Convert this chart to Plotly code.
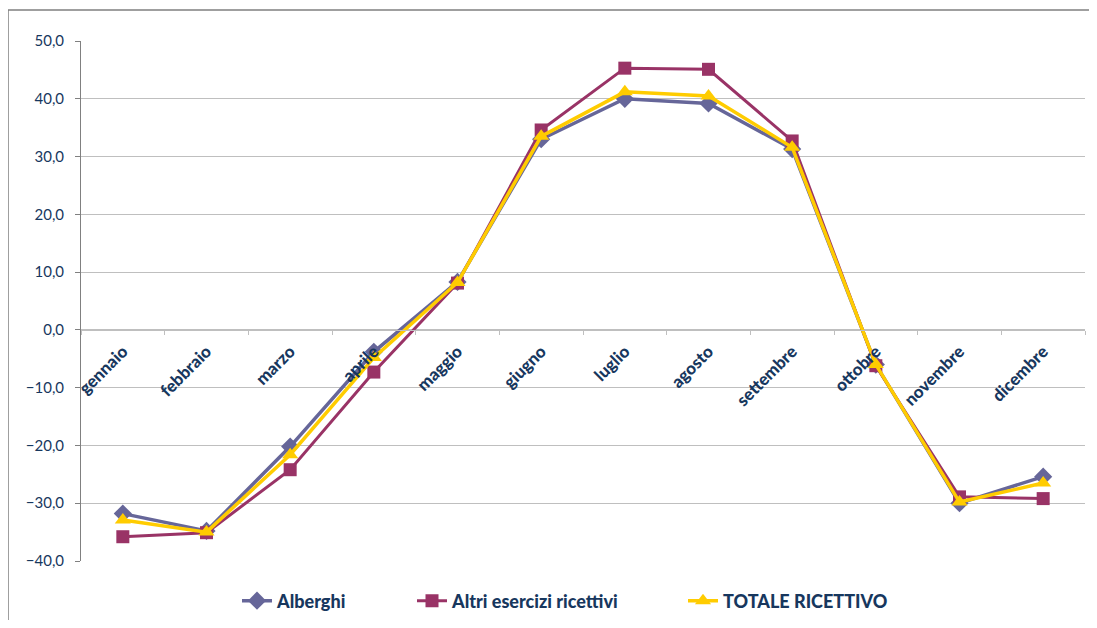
import plotly.graph_objects as go

months = ["gennaio", "febbraio", "marzo", "aprile", "maggio", "giugno",
          "luglio", "agosto", "settembre", "ottobre", "novembre", "dicembre"]
alberghi = [-31.8, -34.8, -20.2, -3.8, 8.3, 33.0, 40.0, 39.2, 31.3, -6.0, -30.0, -25.4]
altri = [-35.8, -35.1, -24.2, -7.3, 8.1, 34.6, 45.3, 45.1, 32.7, -6.2, -28.9, -29.2]
totale = [-32.9, -35.0, -21.6, -4.8, 8.2, 33.5, 41.2, 40.5, 31.6, -6.0, -29.8, -26.5]
y_ticks = [-40, -30, -20, -10, 0, 10, 20, 30, 40, 50]

# page has an 8px body margin; figure sized to fit the 1097x628 window
W, H = 1081, 612
ML, MR, MT, MB = 73, 4, 33, 59
PW, PH = W - ML - MR, H - MT - MB

font_family = "Lato, 'Open Sans', sans-serif"
text_color = "#17375E"

fig = go.Figure()
fig.add_trace(go.Scatter(x=months, y=alberghi, name="Alberghi", mode="lines+markers",
                         legend="legend",
                         line=dict(color="#666699", width=3.5),
                         marker=dict(symbol="diamond", size=14, color="#666699")))
fig.add_trace(go.Scatter(x=months, y=altri, name="Altri esercizi ricettivi", mode="lines+markers",
                         legend="legend2",
                         line=dict(color="#993366", width=3),
                         marker=dict(symbol="square", size=13, color="#993366")))
fig.add_trace(go.Scatter(x=months, y=totale, name="TOTALE RICETTIVO", mode="lines+markers",
                         legend="legend3",
                         line=dict(color="#FFCC00", width=3.5),
                         marker=dict(symbol="triangle-up", size=14, color="#FFCC00")))

ymin, ymax = -40, 50
zero_pos = (0 - ymin) / (ymax - ymin)

def px_x(page_x):
    return (page_x - 8 - ML) / PW

def px_y(page_y):
    return (MT + PH - (page_y - 8)) / PH

legend_font = dict(size=18, color=text_color, family=font_family, weight=900)
leg_y = px_y(601)

def mk_legend(page_x):
    return dict(x=px_x(page_x), xanchor="left", y=leg_y, yanchor="middle",
                orientation="h", font=legend_font, bgcolor="rgba(0,0,0,0)",
                itemwidth=30)

fig.update_layout(
    width=W, height=H,
    margin=dict(l=ML, r=MR, t=MT, b=MB, autoexpand=False),
    paper_bgcolor="white", plot_bgcolor="white",
    separators=",.",
    font=dict(family=font_family, color=text_color),
    showlegend=True,
    legend=mk_legend(237),
    legend2=mk_legend(412),
    legend3=mk_legend(683),
    xaxis=dict(
        type="category", anchor="free", position=zero_pos,
        showgrid=False, showline=True, linecolor="#BFBFBF", linewidth=1,
        ticks="outside", tickson="boundaries", ticklen=4, tickcolor="#BFBFBF",
        tickangle=-45, ticklabelstandoff=4,
        tickfont=dict(size=17, color=text_color, weight=900),
        range=[-0.5, 11.5], zeroline=False,
    ),
    yaxis=dict(
        range=[ymin, ymax], tickvals=y_ticks, tickformat=".1f",
        showgrid=True, gridcolor="#BFBFBF", gridwidth=1,
        showline=True, linecolor="#808080", linewidth=1,
        ticks="outside", ticklen=5, tickcolor="#808080", ticklabelstandoff=8,
        tickfont=dict(size=15, color=text_color), zeroline=False,
    ),
    shapes=[dict(type="rect", xref="paper", yref="paper",
                 x0=px_x(8), x1=px_x(1110),
                 y0=px_y(640), y1=px_y(10),
                 line=dict(color="#808080", width=1.5), layer="below")],
)

fig.write_html("out.html")
